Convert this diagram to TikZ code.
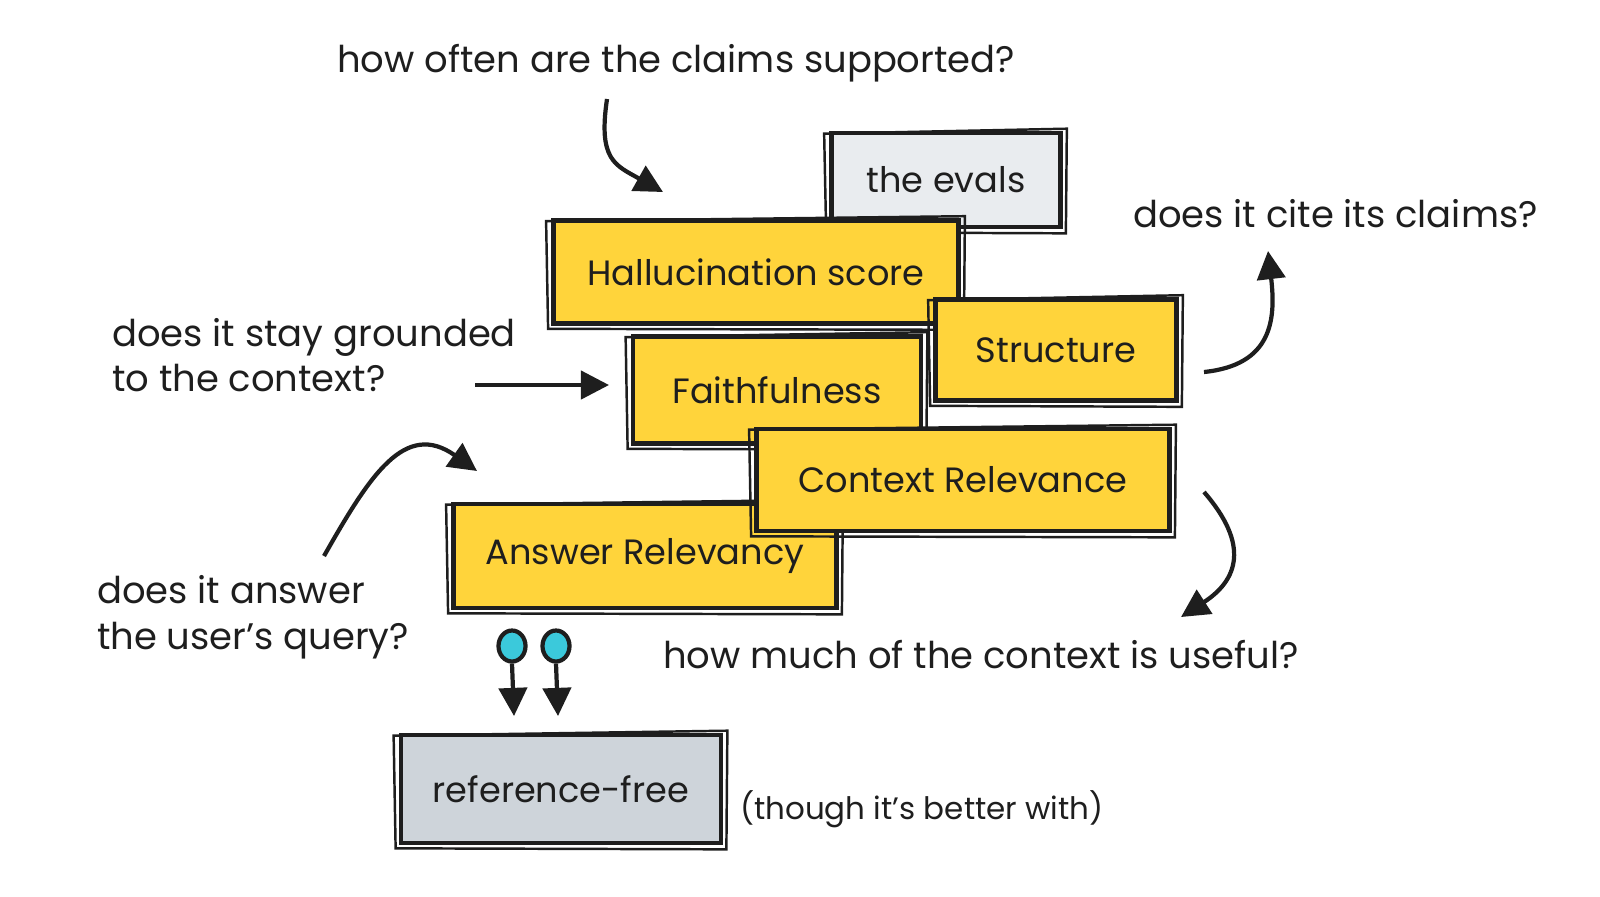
\documentclass[tikz,border=0pt]{standalone}
\usepackage{fontspec}
\setmainfont{Poppins}
\usetikzlibrary{arrows.meta,shapes.geometric}

\definecolor{inkblack}{HTML}{1E1E1E}
\definecolor{evalyellow}{HTML}{FFD43B}
\definecolor{evalgray}{HTML}{E9ECEF}
\definecolor{refgray}{HTML}{CED4DA}
\definecolor{pincyan}{HTML}{3BC9DB}

% second, rougher stroke round a box
\newcommand{\sketchframe}[1]{%
  \draw[inkblack, line width=0.7pt]
    ([shift={(-5,3)}]#1.north west) -- ([shift={(4,-2)}]#1.north east)
    -- ([shift={(3,4)}]#1.south east) -- ([shift={(-3,3)}]#1.south west) -- cycle;}

\begin{document}
\begin{tikzpicture}[x=0.01cm, y=-0.01cm, line width=1.2pt,
    evalbox/.style={draw=inkblack, fill=evalyellow, line width=1.3pt,
      inner sep=0pt, font=\fontsize{10}{12}\selectfont, text=inkblack},
    note/.style={anchor=west, align=left, inner sep=0pt,
      font=\fontsize{10.5}{13}\selectfont, text=inkblack},
    sketcharrow/.style={draw=inkblack, line width=1.2pt,
      -{Triangle[length=8pt, width=8pt]}},
    pin/.style={ellipse, draw=inkblack, fill=pincyan, line width=1.2pt,
      minimum width=0.27cm, minimum height=0.31cm, inner sep=0pt}]

  \useasboundingbox (0,0) rectangle (1600,896);

  % -- Boxes, back to front --
  \node[evalbox, fill=evalgray, minimum width=2.29cm, minimum height=0.94cm]
    (evals) at (946,180) {the evals};
  \sketchframe{evals}
  \node[evalbox, minimum width=4.05cm, minimum height=1.03cm]
    (halluc) at (756,272) {Hallucination score};
  \sketchframe{halluc}
  \node[evalbox, minimum width=2.41cm, minimum height=1.01cm]
    (structure) at (1056,350) {Structure};
  \sketchframe{structure}
  \node[evalbox, minimum width=2.88cm, minimum height=1.07cm]
    (faith) at (777,390) {Faithfulness};
  \sketchframe{faith}
  \node[evalbox, minimum width=3.83cm, minimum height=1.04cm]
    (answer) at (645,556) {Answer Relevancy};
  \sketchframe{answer}
  \node[evalbox, minimum width=4.13cm, minimum height=1.02cm]
    (context) at (963,480) {Context Relevance};
  \sketchframe{context}
  \node[evalbox, fill=refgray, minimum width=3.20cm, minimum height=1.08cm]
    (reffree) at (561,789) {reference-free};
  \sketchframe{reffree}

  % -- Annotations --
  \node[note] (oftenTxt) at (335,63) {how often are the claims supported?};
  \node[note] (citeTxt) at (1131,214) {does it cite its claims?};
  \node[note] (groundTxt) at (110,355) {does it stay grounded\\to the context?};
  \node[note] (queryTxt) at (95,617) {does it answer\\the user's query?};
  \node[note] (usefulTxt) at (661,655) {how much of the context is useful?};
  \node[note, font=\fontsize{8.8}{11}\selectfont] (betterTxt) at (738,809)
    {(though it's better with)};

  % -- Arrow ends --
  \coordinate (oftenTail) at (607,99);
  \coordinate (oftenTip) at (663,192);
  \coordinate (citeTail) at (1204,372);
  \coordinate (citeTip) at (1268,251);
  \coordinate (groundTail) at (475,385);
  \coordinate (groundTip) at (609,385);
  \coordinate (queryTail) at (324,556);
  \coordinate (queryTip) at (477,471);
  \coordinate (usefulTail) at (1204,492);
  \coordinate (usefulTip) at (1181,617);

  % -- Curved arrows --
  \draw[sketcharrow] (oftenTail) .. controls (598,160) and (615,165) .. (oftenTip);
  \draw[sketcharrow] (citeTail) .. controls (1272,365) and (1276,320) .. (citeTip);
  \draw[sketcharrow] (groundTail) -- (groundTip);
  \draw[sketcharrow] (queryTail) .. controls (370,475) and (405,420) .. (queryTip);
  \draw[sketcharrow] (usefulTail) .. controls (1250,545) and (1238,580) .. (usefulTip);

  % -- Pins --
  \node[pin] (pinA) at (512,646) {};
  \node[pin] (pinB) at (556,646) {};
  \coordinate (pinAtip) at (514,716);
  \coordinate (pinBtip) at (558,716);
  \draw[sketcharrow] (pinA.south) -- (pinAtip);
  \draw[sketcharrow] (pinB.south) -- (pinBtip);

\end{tikzpicture}
\end{document}
